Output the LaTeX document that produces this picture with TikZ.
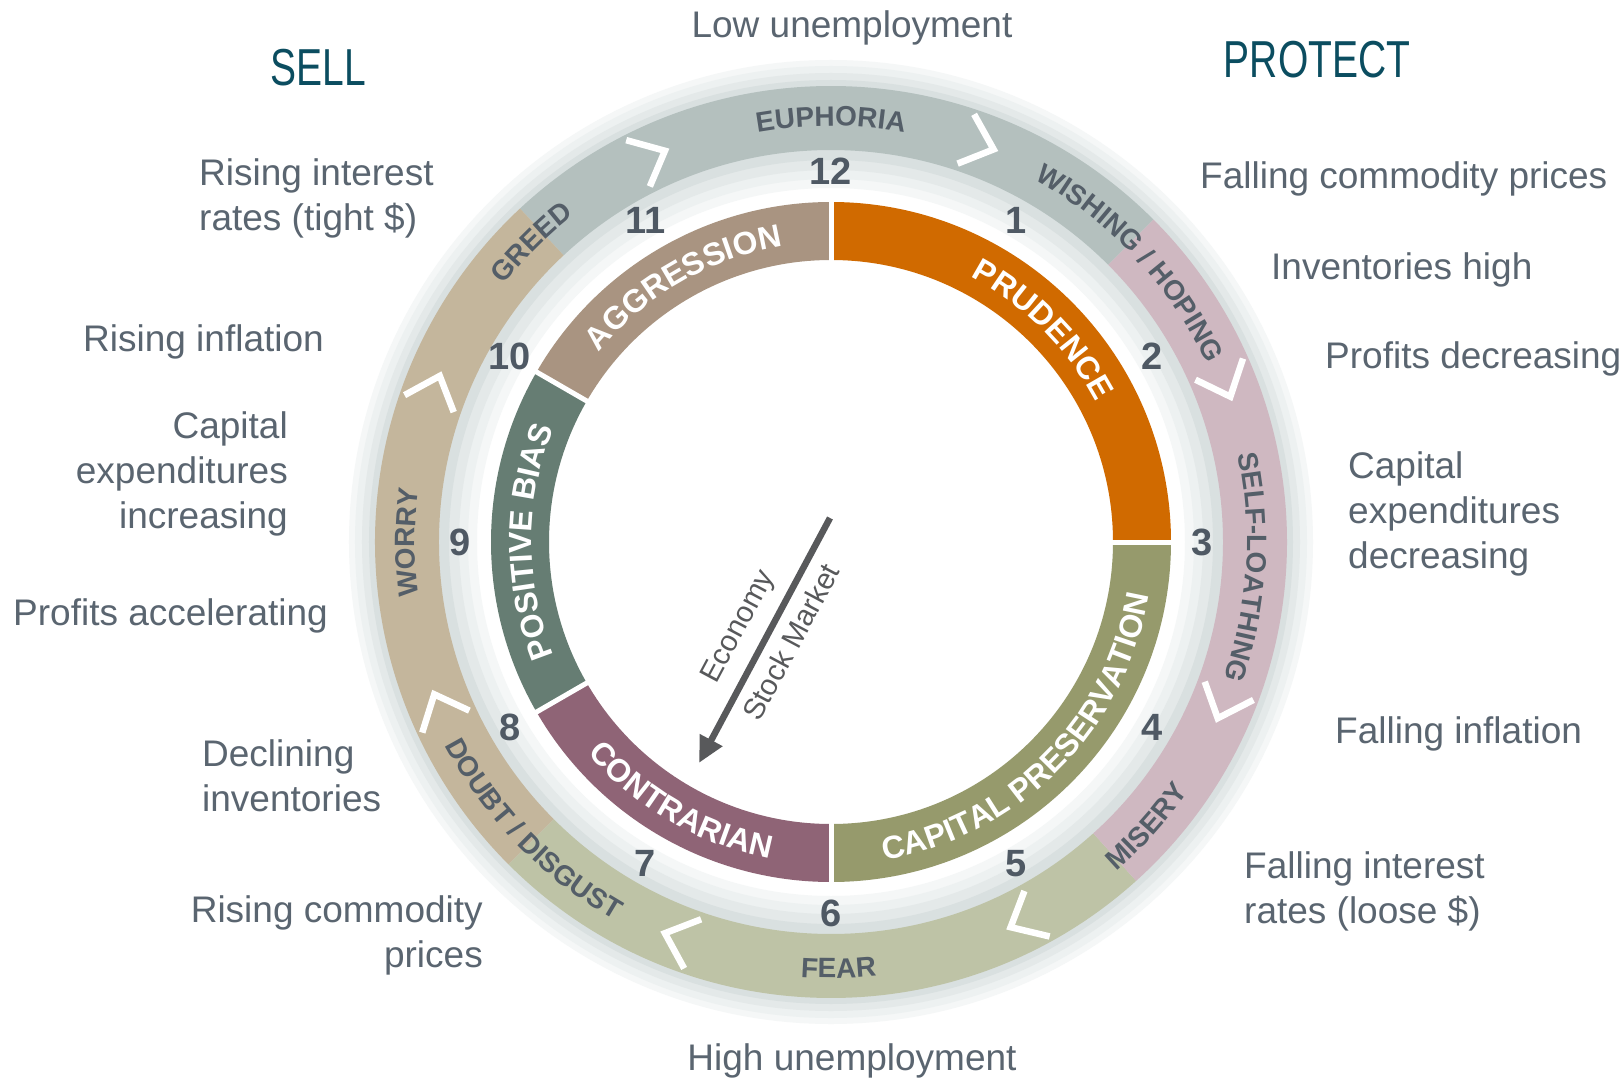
\documentclass[tikz,border=0pt]{standalone}
\usepackage{fontspec}
\setmainfont{Liberation Sans}
\newfontfamily\headfont[FakeStretch=0.75]{Liberation Sans}
\usetikzlibrary{arrows.meta,decorations.text}

\definecolor{prud}{HTML}{D06A00}
\definecolor{cappres}{HTML}{969A6C}
\definecolor{contra}{HTML}{8F6476}
\definecolor{posbias}{HTML}{667D73}
\definecolor{aggr}{HTML}{A99481}
\definecolor{emoTan}{HTML}{C4B69C}
\definecolor{emoGrey}{HTML}{B4C0BE}
\definecolor{emoPink}{HTML}{CFB8C1}
\definecolor{emoOlive}{HTML}{BEC3A6}
\definecolor{emotext}{HTML}{545E68}
\definecolor{numc}{HTML}{4F5964}
\definecolor{sidetext}{HTML}{5A6570}
\definecolor{headc}{HTML}{0B4D60}
\definecolor{arrc}{HTML}{58595B}
\definecolor{haloA}{HTML}{F5F7F7}
\definecolor{haloB}{HTML}{EDF1F1}
\definecolor{haloC}{HTML}{E4E9E9}
\definecolor{haloD}{HTML}{D9E0E0}

\newcommand{\segfont}{\bfseries\fontsize{32}{32}\selectfont}
\newcommand{\emofont}{\bfseries\fontsize{28}{28}\selectfont}
%% ring piece: colour, from, to, inner r, outer r
\newcommand{\ringseg}[5]{\fill[#1] (#2:#4) arc (#2:#3:#4) -- (#3:#5) arc (#3:#2:#5) -- cycle;}
%% curved label: radius, from, to, font, colour, text
\newcommand{\bandlabel}[6]{\path[decorate,decoration={text along path,text align=center,text color=#5,text={|#4|#6}}] (#2:#1) arc (#2:#3:#1);}

\begin{document}
\begin{tikzpicture}[x=1pt,y=1pt,
    side/.style={text=sidetext,font=\fontsize{37}{45}\selectfont,inner sep=0pt},
    head/.style={text=headc,font=\headfont\fontsize{52}{52}\selectfont,inner sep=0pt},
    num/.style={text=numc,font=\bfseries\fontsize{38}{38}\selectfont,inner sep=0pt},
    chev/.style={draw=white,line width=6.5pt,line join=miter},
    gap/.style={draw=white,line width=5pt},
    cyc/.style={draw=arrc,line width=6.5pt,-{Triangle[length=26pt,width=24pt]}},
    axis/.style={text=arrc,font=\fontsize{29.5}{30}\selectfont,inner sep=0pt}]
    \fill[white] (-831,-537) rectangle (793,542);
    \useasboundingbox (-831,-537) rectangle (793,542);
    %% halo
    \foreach \ro/\ri/\hc in {482/354/haloA,476/363/haloB,469/372/haloC,462/382/haloD}
        \fill[\hc,even odd rule] (0,0) circle (\ro) (0,0) circle (\ri);
    %% outer band: moods
    \ringseg{emoGrey}{45}{133}{392}{456}
    \ringseg{emoTan}{133}{225}{392}{456}
    \ringseg{emoOlive}{225}{312}{392}{456}
    \ringseg{emoPink}{-48}{45}{392}{456}
    \foreach \a in {113,67.5,20,-24.5,-65,-113,201,157}
        \draw[chev] ({\a+4}:399) -- (\a:425) -- ({\a+4}:451);
    \bandlabel{416}{130}{50}{\emofont}{emotext}{EUPHORIA}
    \bandlabel{416}{86}{0}{\emofont}{emotext}{WISHING / HOPING}
    \bandlabel{416}{40}{-47}{\emofont}{emotext}{SELF-LOATHING}
    \bandlabel{436}{-80}{-4}{\emofont}{emotext}{MISERY}
    \bandlabel{436}{-129}{-49}{\emofont}{emotext}{FEAR}
    \bandlabel{436}{180}{268}{\emofont}{emotext}{DOUBT / DISGUST}
    \bandlabel{416}{220}{140}{\emofont}{emotext}{WORRY}
    \bandlabel{416}{175}{95}{\emofont}{emotext}{GREED}
    %% inner band: strategy
    \ringseg{prud}{0}{90}{282}{340}
    \ringseg{aggr}{90}{150}{282}{340}
    \ringseg{posbias}{150}{210}{282}{340}
    \ringseg{contra}{210}{270}{282}{340}
    \ringseg{cappres}{270}{360}{282}{340}
    \foreach \a in {0,90,150,210,270}
        \draw[gap] (\a:276) -- (\a:346);
    \bandlabel{299.5}{160}{80}{\segfont}{white}{AGGRESSION}
    \bandlabel{299.5}{90}{0}{\segfont}{white}{PRUDENCE}
    \bandlabel{299.5}{220}{140}{\segfont}{white}{POSITIVE BIAS}
    \bandlabel{322.5}{200}{280}{\segfont}{white}{CONTRARIAN}
    \bandlabel{322.5}{255}{375}{\segfont}{white}{CAPITAL PRESERVATION}
    %% clock
    \foreach \n in {1,...,12}
        \node[num] (h\n) at ({90-30*\n}:371) {\n};
    %% cycle arrow
    \coordinate (tail) at (-1,24);
    \coordinate (tip) at (-132,-221);
    \draw[cyc] (tail) -- (tip)
        node[axis,pos=0.5,sloped,above=12pt] (eco) {Economy}
        node[axis,pos=0.46,sloped,below=10pt] (stock) {Stock Market};
    %% headings
    \node[head] (sell) at (-513,474) {SELL};
    \node[head] (protect) at (486,482) {PROTECT};
    \node[side] (lowunemp) at (21,514) {Low unemployment};
    \node[side] (highunemp) at (21,-519) {High unemployment};
    %% left side
    \node[side,anchor=west,align=left] (riserate) at (-632,344) {Rising interest\\rates (tight \$)};
    \node[side,anchor=west] (riseinfl) at (-748,200) {Rising inflation};
    \node[side,anchor=east,align=right] (capinc) at (-543,68) {Capital\\expenditures\\increasing};
    \node[side,anchor=west] (profacc) at (-818,-74) {Profits accelerating};
    \node[side,anchor=west,align=left] (declinv) at (-629,-234) {Declining\\inventories};
    \node[side,anchor=east,align=right] (risecomm) at (-348,-393) {Rising commodity\\prices};
    %% right side
    \node[side,anchor=west] (fallcomm) at (369,363) {Falling commodity prices};
    \node[side,anchor=west] (invhigh) at (440,272) {Inventories high};
    \node[side,anchor=west] (profdec) at (494,183) {Profits decreasing};
    \node[side,anchor=west,align=left] (capdec) at (517,28) {Capital\\expenditures\\decreasing};
    \node[side,anchor=west] (fallinfl) at (504,-192) {Falling inflation};
    \node[side,anchor=west,align=left] (fallrate) at (413,-349) {Falling interest\\rates (loose \$)};
\end{tikzpicture}
\end{document}
